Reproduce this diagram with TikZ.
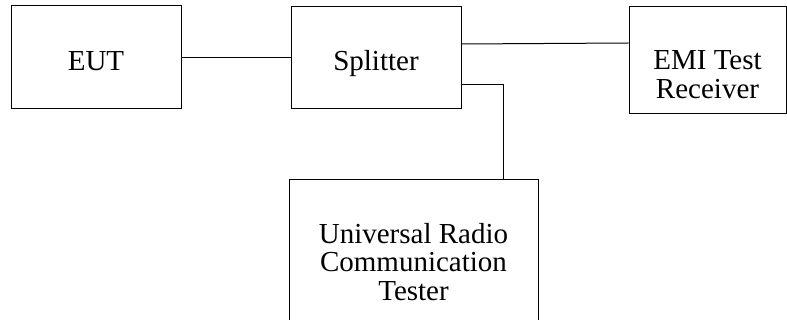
\documentclass[tikz,border=0pt]{standalone}
\usepackage{fontspec}
\setmainfont{Liberation Serif}
\usepackage{tikz}
\usetikzlibrary{positioning}

\begin{document}
\begin{tikzpicture}[x=1pt, y=-1pt,
  unit/.style={draw, line width=1pt, rectangle, align=center, inner sep=0pt,
    anchor=north, font=\fontsize{29}{28.5}\selectfont},
  wire/.style={line width=1pt}]
  \useasboundingbox (0,0) rectangle (787,320);
  \node[unit, minimum width=170pt, text height=65pt, text depth=38pt] (eut) at (96,5) {EUT};
  \node[unit, minimum width=170pt, text height=64pt, text depth=38pt] (splitter) at (376,6) {Splitter};
  \node[unit, minimum width=157pt, text height=92pt, text depth=15pt] (emi) at (707.5,6) {EMI Test\\Receiver};
  \node[unit, minimum width=249pt, text height=121pt, text depth=37pt] (urc) at (413.5,179) {Universal Radio\\Communication\\Tester};
  % connections
  \draw[wire] (eut.east |- 0,58) -- (splitter.west |- 0,58);
  \draw[wire] (splitter.east |- 0,44) -- (emi.west |- 0,43);
  \draw[wire] (splitter.east |- 0,85) -| ([xshift=-35pt]urc.north east);
\end{tikzpicture}
\end{document}
